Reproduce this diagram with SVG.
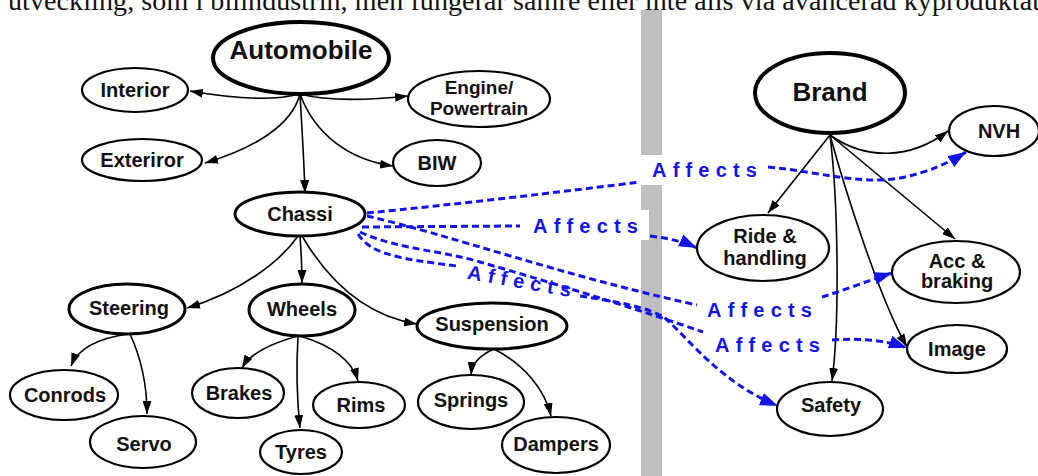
<svg xmlns="http://www.w3.org/2000/svg" width="1038" height="476" viewBox="0 0 1038 476">
  <style>
    .node ellipse { fill: #ffffff; stroke: #000000; stroke-width: 2.2; }
    .node.main ellipse { stroke-width: 4; }
    .node.sub ellipse { stroke-width: 3; }
    .node text { font-family: "Liberation Sans", Arial, sans-serif; font-weight: bold; font-size: 20px; fill: #111111; text-anchor: middle; }
    .node.main text { font-size: 26px; }
    .node text.two { font-size: 19px; }
    .edge { fill: none; stroke: #000000; stroke-width: 1.6; marker-end: url(#arrow); }
    .affects { fill: none; stroke: #1414e8; stroke-width: 3; stroke-dasharray: 7 4; }
    .affects.end { marker-end: url(#arrow-blue); }
    .label { font-family: "Liberation Sans", Arial, sans-serif; font-weight: bold; font-size: 20px; letter-spacing: 6.2px; fill: #1414e8; }
    .divider { fill: #bfbfbf; }
    .page { font-family: "Liberation Serif", "Times New Roman", serif; font-size: 28px; fill: #111111; }
  </style>
  <defs>
    <marker id="arrow" markerUnits="userSpaceOnUse" viewBox="0 0 13 9" markerWidth="13" markerHeight="9" refX="13" refY="4.5" orient="auto">
      <path d="M0,0 L13,4.5 L0,9 z" fill="#000000"/>
    </marker>
    <marker id="arrow-blue" markerUnits="userSpaceOnUse" viewBox="0 0 18 13" markerWidth="18" markerHeight="13" refX="18" refY="6.5" orient="auto">
      <path d="M0,0 L18,6.5 L0,13 z" fill="#1414e8"/>
    </marker>
  </defs>

  <rect width="1038" height="476" fill="#ffffff"/>

  <!-- running text of the page above the figure -->
  <text class="page" x="8" y="10" textLength="1032" lengthAdjust="spacing">utveckling, som i bilindustrin, men fungerar sämre eller inte alls via avancerad kyproduktat</text>

  <!-- divider between product tree and brand tree -->
  <g id="divider">
    <rect class="divider" x="641" y="10" width="21" height="145"/>
    <rect class="divider" x="641" y="185" width="21" height="25"/>
    <rect class="divider" x="649" y="210" width="13" height="30"/>
    <rect class="divider" x="641" y="240" width="21" height="236"/>
  </g>

  <g id="connectors">
    <!-- Automobile -->
    <path class="edge" d="M300,94 C270,102 230,98 190,91"/>
    <path class="edge" d="M300,94 C330,102 370,100 408,96"/>
    <path class="edge" d="M300,94 C292,125 255,148 205,163"/>
    <path class="edge" d="M300,94 C302,130 304,160 305,193"/>
    <path class="edge" d="M300,94 C315,135 350,160 393,166"/>
    <!-- Chassi -->
    <path class="edge" d="M298,236 C280,262 240,292 187,308"/>
    <path class="edge" d="M300,236 C301,250 302,265 302,283"/>
    <path class="edge" d="M302,236 C325,275 360,315 417,324"/>
    <!-- Steering -->
    <path class="edge" d="M128,334 C100,338 78,348 71,366"/>
    <path class="edge" d="M130,334 C142,360 147,390 147,414"/>
    <!-- Wheels -->
    <path class="edge" d="M298,336 C272,343 250,354 242,368"/>
    <path class="edge" d="M298,336 C296,370 297,400 300,428"/>
    <path class="edge" d="M300,336 C330,345 352,360 358,381"/>
    <!-- Suspension -->
    <path class="edge" d="M494,349 C480,355 472,363 471,375"/>
    <path class="edge" d="M494,349 C525,365 545,390 551,416"/>
    <!-- Brand -->
    <path class="edge" d="M830,135 C865,160 910,160 948,131"/>
    <path class="edge" d="M830,135 L768,213"/>
    <path class="edge" d="M830,135 L955,239"/>
    <path class="edge" d="M830,135 C838,200 840,320 832,381"/>
    <path class="edge" d="M830,135 C845,190 880,300 907,347"/>

    <!-- Chassi affects brand attributes -->
    <path class="affects" d="M367,213 C450,205 560,192 640,182"/>
    <path class="affects end" d="M768,167 C820,172 860,185 900,178 C930,172 950,162 966,152"/>
    <text class="label" x="652" y="177">Affects</text>

    <path class="affects" d="M362,227 L520,226"/>
    <path class="affects end" d="M650,236 C668,238 684,242 697,248"/>
    <text class="label" x="533" y="233">Affects</text>

    <path class="affects" d="M358,234 C370,252 390,258 457,266"/>
    <text class="label" x="467" y="288" transform="rotate(10 520 281)">Affects</text>
    <path class="affects end" d="M580,296 C620,302 650,308 665,318 C690,340 720,382 778,406"/>

    <path class="affects" d="M367,216 C450,235 560,275 697,305"/>
    <path class="affects end" d="M822,297 C845,290 870,280 892,273"/>
    <text class="label" x="707" y="317">Affects</text>

    <path class="affects" d="M360,232 C400,250 440,250 480,262 C560,285 640,310 703,332"/>
    <path class="affects end" d="M832,340 C860,338 885,340 907,348"/>
    <text class="label" x="715" y="352">Affects</text>
  </g>

  <!-- product structure -->
  <g id="automobile" class="node main"><ellipse cx="301" cy="58" rx="88" ry="36"/><text x="301" y="59">Automobile</text></g>
  <g id="interior" class="node"><ellipse cx="135" cy="90" rx="53" ry="22"/><text x="135" y="97">Interior</text></g>
  <g id="engine" class="node"><ellipse cx="479" cy="99" rx="71" ry="28"/><text class="two" x="479" y="94">Engine/</text><text class="two" x="479" y="115">Powertrain</text></g>
  <g id="exterior" class="node"><ellipse cx="142" cy="160" rx="60" ry="21"/><text x="142" y="167">Exteriror</text></g>
  <g id="biw" class="node"><ellipse cx="437" cy="163" rx="44" ry="23"/><text x="437" y="170">BIW</text></g>
  <g id="chassi" class="node sub"><ellipse cx="300" cy="214" rx="65" ry="22"/><text x="300" y="221">Chassi</text></g>
  <g id="steering" class="node sub"><ellipse cx="127" cy="309" rx="58" ry="25"/><text x="129" y="315">Steering</text></g>
  <g id="wheels" class="node sub"><ellipse cx="302" cy="310" rx="53" ry="26"/><text x="302" y="316">Wheels</text></g>
  <g id="suspension" class="node sub"><ellipse cx="492" cy="326" rx="75" ry="23"/><text x="492" y="331">Suspension</text></g>
  <g id="conrods" class="node"><ellipse cx="64" cy="395" rx="54" ry="25"/><text x="65" y="402">Conrods</text></g>
  <g id="servo" class="node"><ellipse cx="143" cy="442" rx="53" ry="26"/><text x="144" y="451">Servo</text></g>
  <g id="brakes" class="node"><ellipse cx="238" cy="393" rx="46" ry="25"/><text x="239" y="400">Brakes</text></g>
  <g id="rims" class="node"><ellipse cx="359" cy="405" rx="46" ry="23"/><text x="361" y="412">Rims</text></g>
  <g id="tyres" class="node"><ellipse cx="301" cy="452" rx="41" ry="22"/><text x="301" y="459">Tyres</text></g>
  <g id="springs" class="node"><ellipse cx="471" cy="402" rx="53" ry="27"/><text x="471" y="407">Springs</text></g>
  <g id="dampers" class="node"><ellipse cx="556" cy="445" rx="54" ry="28"/><text x="556" y="451">Dampers</text></g>

  <!-- brand attributes -->
  <g id="brand" class="node main"><ellipse cx="830" cy="93" rx="75" ry="40"/><text x="830" y="101">Brand</text></g>
  <g id="nvh" class="node"><ellipse cx="994" cy="131" rx="45" ry="25"/><text x="999" y="138">NVH</text></g>
  <g id="ride" class="node"><ellipse cx="763" cy="248" rx="66" ry="33"/><text x="765" y="243">Ride &amp;</text><text x="765" y="265">handling</text></g>
  <g id="acc" class="node"><ellipse cx="956" cy="272" rx="64" ry="31"/><text x="957" y="268">Acc &amp;</text><text x="957" y="288">braking</text></g>
  <g id="image" class="node"><ellipse cx="957" cy="349" rx="50" ry="24"/><text x="957" y="356">Image</text></g>
  <g id="safety" class="node"><ellipse cx="830" cy="409" rx="53" ry="27"/><text x="831" y="412">Safety</text></g>
</svg>
